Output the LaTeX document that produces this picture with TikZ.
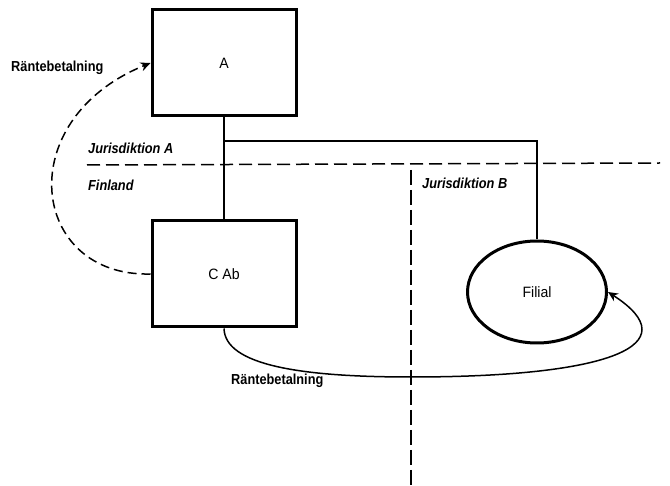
\documentclass[tikz,border=0pt]{standalone}
\usepackage{fontspec}
\setmainfont{Liberation Sans}
\newfontfamily\narrowsans{Liberation Sans}[FakeStretch=0.88]
\newfontfamily\plainsans{Liberation Sans}[FakeStretch=0.94]
\usetikzlibrary{arrows.meta,shapes.geometric}
\tikzstyle{box} = [draw, line width=3pt, minimum width=144pt, minimum height=106pt, font=\plainsans\fontsize{15}{17}\selectfont]
\tikzstyle{branch} = [draw, ellipse, line width=3pt, minimum width=139pt, minimum height=102pt, inner sep=0pt, font=\plainsans\fontsize{15}{17}\selectfont]
\tikzstyle{edge} = [line width=1.5pt]
\tikzstyle{diredge} = [line width=1.5pt, -{Stealth[length=10pt,width=9pt]}]
\tikzstyle{dashedge} = [line width=1.5pt, -{Stealth[length=10pt,width=9pt]}, dash pattern=on 9pt off 5pt]
\tikzstyle{border} = [line width=1.5pt, dash pattern=on 13pt off 6pt]
\tikzstyle{payment} = [anchor=west, inner sep=0pt, font=\narrowsans\bfseries\fontsize{14.5}{16}\selectfont]
\tikzstyle{zone} = [anchor=west, inner sep=0pt, font=\narrowsans\bfseries\itshape\fontsize{14.5}{16}\selectfont]

\begin{document}
\begin{tikzpicture}[x=1pt,y=-1pt]
    \useasboundingbox (0,0) rectangle (670,486);
    % borders between jurisdictions
    \draw[border] (87,165) -- (660,163);
    \draw[border, line width=1.1pt, dash pattern=on 15pt off 5pt] (411,170) -- (411,486);
    \node[zone] (zoneA) at (88,148) {Jurisdiktion A};
    \node[zone] (zoneFI) at (88,185) {Finland};
    \node[zone] (zoneB) at (422,183) {Jurisdiktion B};
    % entities
    \node[box] (A) at (224,63) {A};
    \node[box] (C) at (224,274) {C Ab};
    \node[branch] (F) at (537,292) {Filial};
    \coordinate (split) at (224,141);
    \draw[edge] (A.south) -- (C.north);
    \draw[edge] (split) -| (F.north);
    % payments
    \draw[dashedge] (C.west) .. controls (30,277) and (10,120) .. (A.west);
    \node[payment] (payA) at (11,68) {Räntebetalning};
    \coordinate (low) at (411,377);
    \draw[diredge] (C.south) .. controls (225,365) and (300,377) .. (low)
        .. controls (610,377) and (690,345) .. (F.east);
    \node[payment] (payF) at (231,381) {Räntebetalning};
\end{tikzpicture}
\end{document}
